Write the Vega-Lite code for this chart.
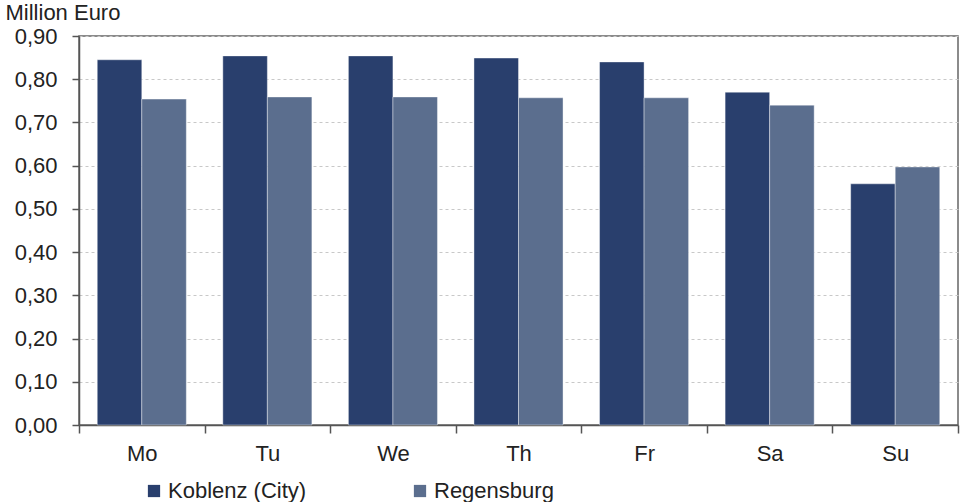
{
  "$schema": "https://vega.github.io/schema/vega-lite/v6.json",
  "width": 879,
  "height": 389,
  "autosize": {"type": "none"},
  "padding": {"left": 79, "top": 36, "right": 2, "bottom": 77},
  "background": "white",
  "config": {
    "font": "Liberation Sans",
    "view": {"stroke": "#666666", "strokeWidth": 1.5},
    "axis": {"labelFont": "Liberation Sans", "titleFont": "Liberation Sans", "labelColor": "#222222", "titleColor": "#222222"},
    "legend": {"labelFont": "Liberation Sans"}
  },
  "data": {
    "values": [
      {"day": "Mo", "city": "Koblenz (City)", "value": 0.845},
      {"day": "Mo", "city": "Regensburg", "value": 0.754},
      {"day": "Tu", "city": "Koblenz (City)", "value": 0.854},
      {"day": "Tu", "city": "Regensburg", "value": 0.759},
      {"day": "We", "city": "Koblenz (City)", "value": 0.854},
      {"day": "We", "city": "Regensburg", "value": 0.759},
      {"day": "Th", "city": "Koblenz (City)", "value": 0.849},
      {"day": "Th", "city": "Regensburg", "value": 0.757},
      {"day": "Fr", "city": "Koblenz (City)", "value": 0.840},
      {"day": "Fr", "city": "Regensburg", "value": 0.757},
      {"day": "Sa", "city": "Koblenz (City)", "value": 0.770},
      {"day": "Sa", "city": "Regensburg", "value": 0.740},
      {"day": "Su", "city": "Koblenz (City)", "value": 0.558},
      {"day": "Su", "city": "Regensburg", "value": 0.597}
    ]
  },
  "mark": {"type": "bar", "stroke": "#ffffff", "strokeWidth": 0.4},
  "encoding": {
    "x": {
      "field": "day",
      "type": "nominal",
      "sort": ["Mo", "Tu", "We", "Th", "Fr", "Sa", "Su"],
      "scale": {"paddingInner": 0, "paddingOuter": 0},
      "axis": {
        "title": null,
        "labelAngle": 0,
        "labelFontSize": 22,
        "labelPadding": 10,
        "tickBand": "extent",
        "tickSize": 8,
        "tickColor": "#555555",
        "domainColor": "#555555",
        "domainWidth": 1.5,
        "tickWidth": 1.5
      }
    },
    "xOffset": {
      "field": "city",
      "type": "nominal",
      "sort": ["Koblenz (City)", "Regensburg"],
      "scale": {"paddingInner": 0, "paddingOuter": 0.41}
    },
    "y": {
      "field": "value",
      "type": "quantitative",
      "scale": {"domain": [0, 0.9], "nice": false},
      "axis": {
        "values": [0, 0.1, 0.2, 0.3, 0.4, 0.5, 0.6, 0.7, 0.8, 0.9],
        "labelExpr": "replace(format(datum.value, '.2f'), '.', ',')",
        "labelFontSize": 22,
        "labelPadding": 15,
        "tickSize": 7,
        "tickColor": "#555555",
        "tickWidth": 1.5,
        "domainColor": "#555555",
        "domainWidth": 1.5,
        "grid": true,
        "gridColor": "#c8c8c8",
        "gridDash": [3, 3],
        "gridWidth": 1,
        "title": "Million Euro",
        "titleFontSize": 22,
        "titleFontWeight": "normal",
        "titleAngle": 0,
        "titleAlign": "left",
        "titleBaseline": "alphabetic",
        "titleX": -74,
        "titleY": -17
      }
    },
    "color": {
      "field": "city",
      "type": "nominal",
      "sort": ["Koblenz (City)", "Regensburg"],
      "scale": {"domain": ["Koblenz (City)", "Regensburg"], "range": ["#293f6d", "#5b6e8e"]},
      "legend": {
        "title": null,
        "orient": "none",
        "direction": "horizontal",
        "legendX": 64,
        "legendY": 444,
        "symbolType": "square",
        "symbolSize": 150,
        "symbolStrokeWidth": 0,
        "labelFontSize": 22,
        "labelColor": "#222222",
        "labelOffset": 3,
        "columnPadding": 102
      }
    }
  }
}
